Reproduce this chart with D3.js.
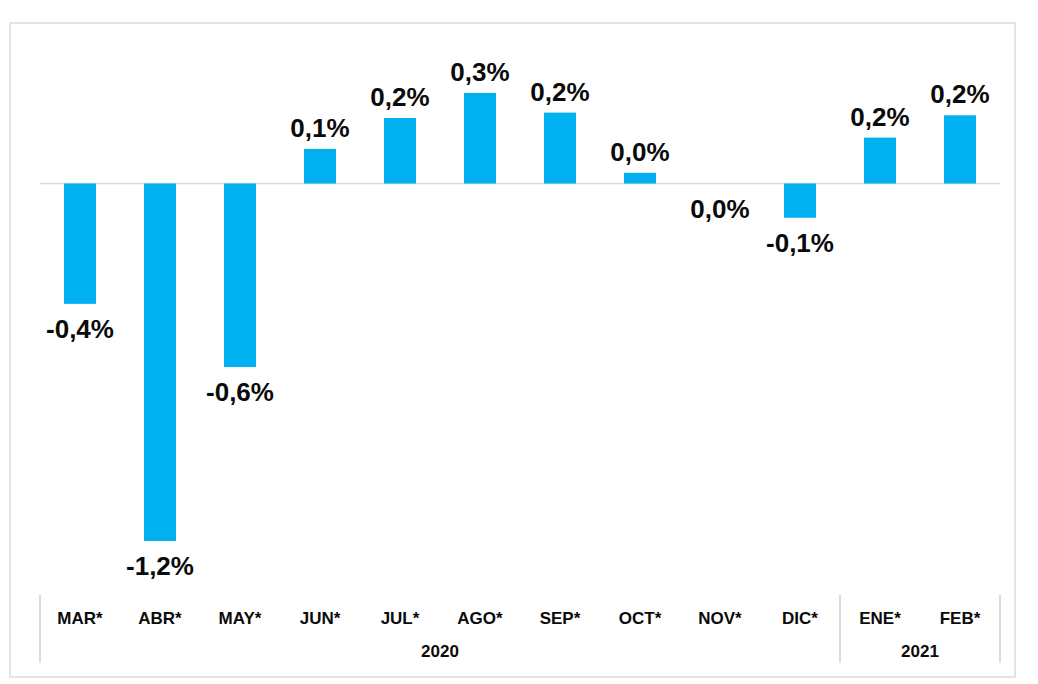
<!DOCTYPE html>
<html>
<head>
<meta charset="utf-8">
<script src="https://cdn.jsdelivr.net/npm/d3@7"></script>
<style>
  html, body { margin: 0; padding: 0; background: #ffffff; }
  svg { display: block; font-family: "Liberation Sans", Arial, sans-serif; }
</style>
</head>
<body>
<svg id="chart" width="1038" height="684"></svg>
<script>
// ---- data ----
const months = ["MAR*", "ABR*", "MAY*", "JUN*", "JUL*", "AGO*", "SEP*", "OCT*", "NOV*", "DIC*", "ENE*", "FEB*"];
const values = [-0.404, -1.2, -0.616, 0.116, 0.22, 0.304, 0.238, 0.036, 0.0, -0.115, 0.154, 0.229];
const valueLabels = ["-0,4%", "-1,2%", "-0,6%", "0,1%", "0,2%", "0,3%", "0,2%", "0,0%", "0,0%", "-0,1%", "0,2%", "0,2%"];
const years = ["2020", "2021"];
const yearCounts = [10, 2];

const svg = d3.select("#chart");

// frame
svg.append("rect")
  .attr("x", 10).attr("y", 23).attr("width", 1005).attr("height", 654)
  .attr("fill", "none").attr("stroke", "#e4e4e4").attr("stroke-width", 2);

const x = d3.scaleBand().domain(months).range([40, 1000])
  .paddingInner(0.6).paddingOuter(0.3);
const y = d3.scaleLinear().domain([-1.2, 0]).range([541, 183.5]);

// zero line
svg.append("line")
  .attr("x1", 40).attr("x2", 1000)
  .attr("y1", y(0)).attr("y2", y(0))
  .attr("stroke", "#d9d9d9").attr("stroke-width", 1.5);

const data = months.map((m, i) => ({ m, v: values[i], label: valueLabels[i] }));

svg.append("g").selectAll("rect").data(data.filter(d => d.v !== 0)).join("rect")
  .attr("x", d => x(d.m))
  .attr("width", x.bandwidth())
  .attr("y", d => y(Math.max(0, d.v)))
  .attr("height", d => Math.abs(y(d.v) - y(0)))
  .attr("fill", "#00b0f0");

svg.append("g").selectAll("text").data(data).join("text")
  .attr("x", d => x(d.m) + x.bandwidth() / 2)
  .attr("y", d => d.v > 0 ? y(d.v) - 12 : y(d.v) + 34)
  .attr("text-anchor", "middle")
  .attr("font-size", 26).attr("font-weight", "bold")
  .attr("fill", "#0a0a0a")
  .text(d => d.label);

// category axis labels
svg.append("g").selectAll("text").data(months).join("text")
  .attr("x", d => x(d) + x.bandwidth() / 2)
  .attr("y", 624)
  .attr("text-anchor", "middle")
  .attr("font-size", 17).attr("font-weight", "bold")
  .attr("fill", "#0a0a0a")
  .text(d => d);

// year groups
let start = 0;
const groups = years.map((yr, i) => {
  const first = months[start];
  const last = months[start + yearCounts[i] - 1];
  start += yearCounts[i];
  const x0 = x(first) - x.step() * x.paddingOuter();
  const x1 = x(last) + x.bandwidth() + x.step() * x.paddingOuter();
  return { yr, x0, x1 };
});

const sepX = [groups[0].x0, ...groups.map(g => g.x1)];
svg.append("g").selectAll("line").data(sepX).join("line")
  .attr("x1", d => d).attr("x2", d => d)
  .attr("y1", 595).attr("y2", 663)
  .attr("stroke", "#dcdcdc").attr("stroke-width", 2);

svg.append("g").selectAll("text").data(groups).join("text")
  .attr("x", d => (d.x0 + d.x1) / 2)
  .attr("y", 657)
  .attr("text-anchor", "middle")
  .attr("font-size", 17).attr("font-weight", "bold")
  .attr("fill", "#0a0a0a")
  .text(d => d.yr);
</script>
</body>
</html>
